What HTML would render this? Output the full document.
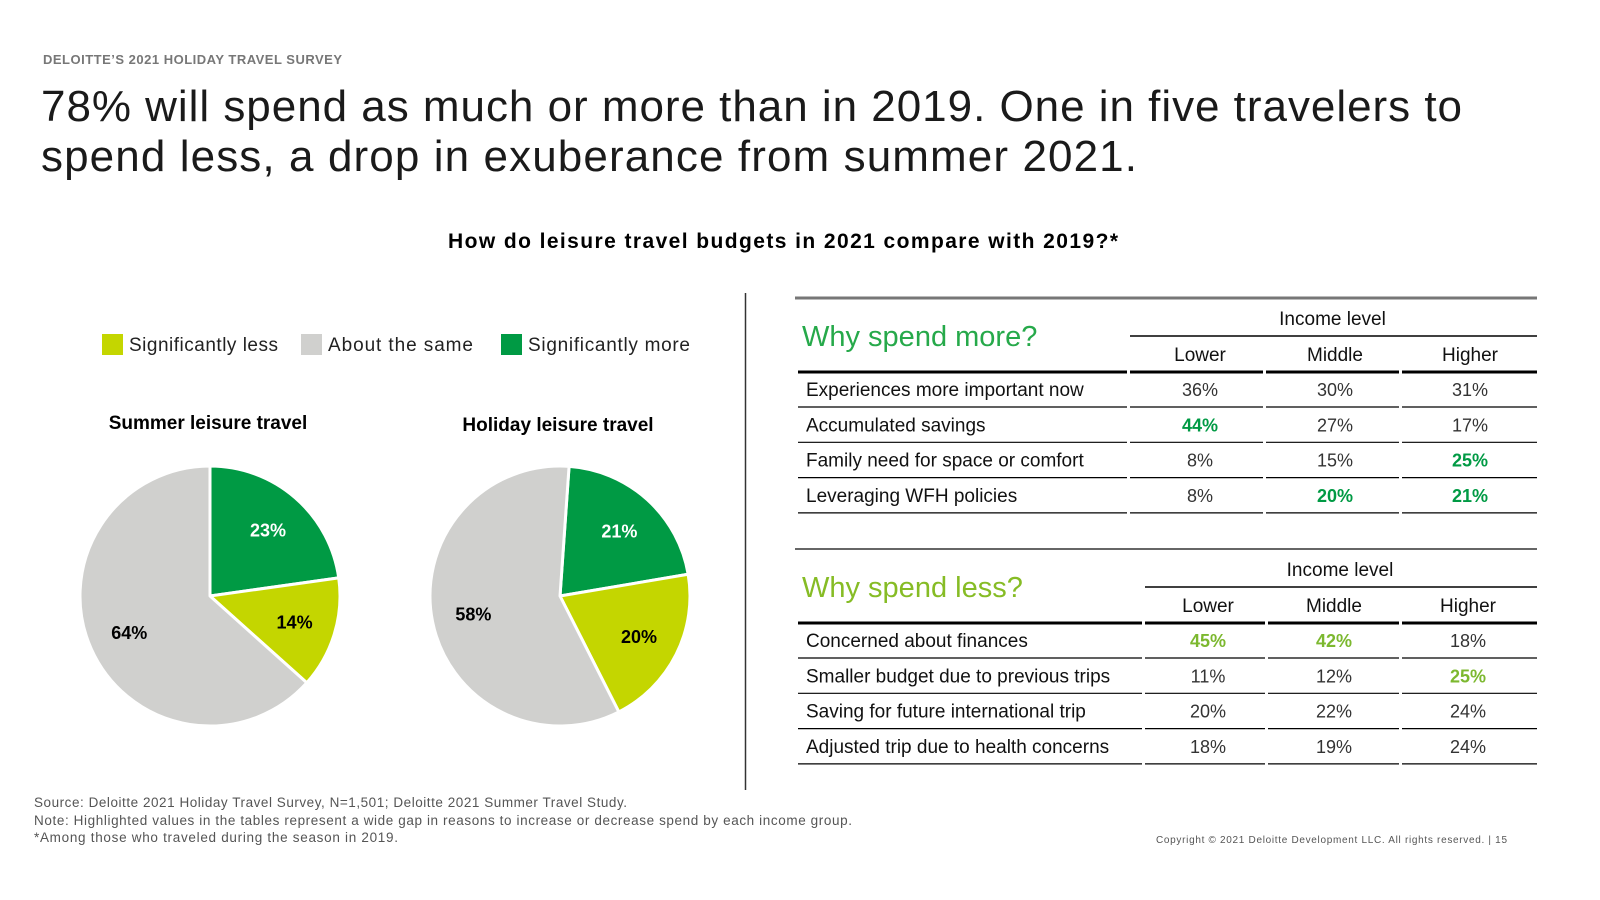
<!DOCTYPE html>
<html><head><meta charset="utf-8"><style>
body{margin:0;background:#fff;}
svg{display:block;font-family:"Liberation Sans",sans-serif;}
</style></head><body>
<svg id="s" width="1600" height="900" viewBox="0 0 1600 900">
<text x="43" y="64" font-size="13" font-weight="bold" fill="#777" letter-spacing="0.5">DELOITTE’S 2021 HOLIDAY TRAVEL SURVEY</text>
<text x="41" y="121" font-size="44" fill="#1a1a1a" textLength="1421" lengthAdjust="spacing">78% will spend as much or more than in 2019. One in five travelers to</text>
<text x="41" y="171" font-size="44" fill="#1a1a1a" textLength="1096" lengthAdjust="spacing">spend less, a drop in exuberance from summer 2021.</text>
<text x="448" y="248" font-size="21" font-weight="bold" fill="#000" textLength="670" lengthAdjust="spacing">How do leisure travel budgets in 2021 compare with 2019?*</text>

<g>
<rect x="102" y="334" width="21" height="21" fill="#c4d600"/>
<text x="129" y="351" font-size="19" fill="#222" textLength="149" lengthAdjust="spacing">Significantly less</text>
<rect x="301" y="334" width="21" height="21" fill="#d0d0ce"/>
<text x="328" y="351" font-size="19" fill="#222" textLength="145" lengthAdjust="spacing">About the same</text>
<rect x="501" y="334" width="21" height="21" fill="#009a44"/>
<text x="528" y="351" font-size="19" fill="#222" textLength="162" lengthAdjust="spacing">Significantly more</text>
</g>
<text x="208" y="429" font-size="19" font-weight="bold" text-anchor="middle">Summer leisure travel</text>
<text x="558" y="431" font-size="19" font-weight="bold" text-anchor="middle">Holiday leisure travel</text>
<g id="pies"></g>

<line x1="745.5" y1="293" x2="745.5" y2="790" stroke="#333" stroke-width="1.5"/>
<g id="tables"></g>

<text x="34" y="807" font-size="13.5" fill="#555" textLength="593" lengthAdjust="spacing">Source: Deloitte 2021 Holiday Travel Survey, N=1,501; Deloitte 2021 Summer Travel Study.</text>
<text x="34" y="825" font-size="13.5" fill="#555" textLength="818" lengthAdjust="spacing">Note: Highlighted values in the tables represent a wide gap in reasons to increase or decrease spend by each income group.</text>
<text x="34" y="842" font-size="13.5" fill="#555" textLength="364" lengthAdjust="spacing">*Among those who traveled during the season in 2019.</text>
<text x="1156" y="843" font-size="10" fill="#555" textLength="351" lengthAdjust="spacing">Copyright © 2021 Deloitte Development LLC. All rights reserved.  |    15</text>
</svg>
<script>
const NS="http://www.w3.org/2000/svg";
const pieNames=["summer","holiday"];
const summerValues=[23,14,64];
const holidayValues=[21,20,58];
const sliceLabels=["more","less","same"];
const sliceColors=["#009a44","#c4d600","#d0d0ce"];
const labelColors=["#fff","#000","#000"];
const pieCenters=[[210,596],[560,596]];
const startAngles=[0,4];
const R=130;
function el(t,a){const e=document.createElementNS(NS,t);for(const k in a)e.setAttribute(k,a[k]);return e;}
function pt(cx,cy,r,deg){const a=deg*Math.PI/180;return [cx+r*Math.sin(a),cy-r*Math.cos(a)];}
const pies=document.getElementById('pies');
[summerValues,holidayValues].forEach((vals,pi)=>{
  const [cx,cy]=pieCenters[pi];
  const total=vals.reduce((a,b)=>a+b,0);
  let ang=startAngles[pi];
  vals.forEach((v,i)=>{
    const sweep=v/total*360;
    const a0=ang,a1=ang+sweep;
    const p0=pt(cx,cy,R,a0),p1=pt(cx,cy,R,a1);
    const p=el('path',{d:`M${cx},${cy}L${p0[0]},${p0[1]}A${R},${R} 0 ${sweep>180?1:0} 1 ${p1[0]},${p1[1]}Z`,fill:sliceColors[i],stroke:'#fff','stroke-width':3,'stroke-linejoin':'round'});
    
    
    pies.appendChild(p);
    const lp=pt(cx,cy,R*0.68,(a0+a1)/2);
    const t=el('text',{x:lp[0],y:lp[1]+7,'font-size':18,'font-weight':'bold','text-anchor':'middle',fill:labelColors[i]});
    t.textContent=v+'%';
    
    
    pies.appendChild(t);
    ang=a1;
  });
});

const moreRows=["Experiences more important now","Accumulated savings","Family need for space or comfort","Leveraging WFH policies"];
const moreVals=[["36%","30%","31%"],["44%","27%","17%"],["8%","15%","25%"],["8%","20%","21%"]];
const moreHi=[[0,0,0],[1,0,0],[0,0,1],[0,1,1]];
const lessRows=["Concerned about finances","Smaller budget due to previous trips","Saving for future international trip","Adjusted trip due to health concerns"];
const lessVals=[["45%","42%","18%"],["11%","12%","25%"],["20%","22%","24%"],["18%","19%","24%"]];
const lessHi=[[1,1,0],[0,0,1],[0,0,0],[0,0,0]];
const tg=document.getElementById('tables');
function table(cfg){
  const g=el('g',{});tg.appendChild(g);
  g.appendChild(el('line',{x1:795,x2:1537,y1:cfg.top,y2:cfg.top,stroke:cfg.topColor,'stroke-width':cfg.topW}));
  const tt=el('text',{x:802,y:cfg.top+48,'font-size':29,fill:cfg.titleColor});tt.textContent=cfg.title;
  g.appendChild(tt);
  const cx=cfg.cols, colL=cfg.colL;
  const ih=el('text',{x:(colL[0]+1535)/2,y:cfg.top+27,'font-size':19,'text-anchor':'middle','fill':'#111'});ih.textContent="Income level";
  g.appendChild(ih);
  g.appendChild(el('line',{x1:colL[0],x2:1537,y1:cfg.top+38,y2:cfg.top+38,stroke:'#000','stroke-width':1.5}));
  ["Lower","Middle","Higher"].forEach((h,i)=>{const t=el('text',{x:cx[i],y:cfg.top+63,'font-size':19,'text-anchor':'middle',fill:'#111'});t.textContent=h;
    g.appendChild(t);});
  const segs=[[798,colL[0]-3],[colL[0],colL[1]-3],[colL[1],colL[2]-3],[colL[2],1537]];
  segs.forEach(s=>g.appendChild(el('line',{x1:s[0],x2:s[1],y1:cfg.top+74,y2:cfg.top+74,stroke:'#000','stroke-width':3})));
  cfg.rows.forEach((r,ri)=>{
    const y=cfg.top+74+35*(ri+1)+(ri*0.3);
    const t=el('text',{x:806,y:y-11,'font-size':19,fill:'#111'});t.textContent=r;
    g.appendChild(t);
    cfg.vals[ri].forEach((v,ci)=>{const h=cfg.hi[ri][ci];
      const c=el('text',{x:cx[ci],y:y-11,'font-size':18,'text-anchor':'middle',fill:h?cfg.hiColor:'#333','font-weight':h?'bold':'normal'});c.textContent=v;
      g.appendChild(c);});
    segs.forEach(s=>g.appendChild(el('line',{x1:s[0],x2:s[1],y1:y,y2:y,stroke:'#000','stroke-width':1.2})));
  });
}
table({name:'spend-more-table',top:298,topColor:'#777',topW:3,title:'Why spend more?',titleColor:'#26a94a',cols:[1200,1335,1470],colL:[1130,1266,1402],rows:moreRows,vals:moreVals,hi:moreHi,hiColor:'#009a44'});
table({name:'spend-less-table',top:549,topColor:'#333',topW:1.5,title:'Why spend less?',titleColor:'#86bc25',cols:[1208,1334,1468],colL:[1145,1268,1402],rows:lessRows,vals:lessVals,hi:lessHi,hiColor:'#7cb82f'});
</script>
</body></html>
